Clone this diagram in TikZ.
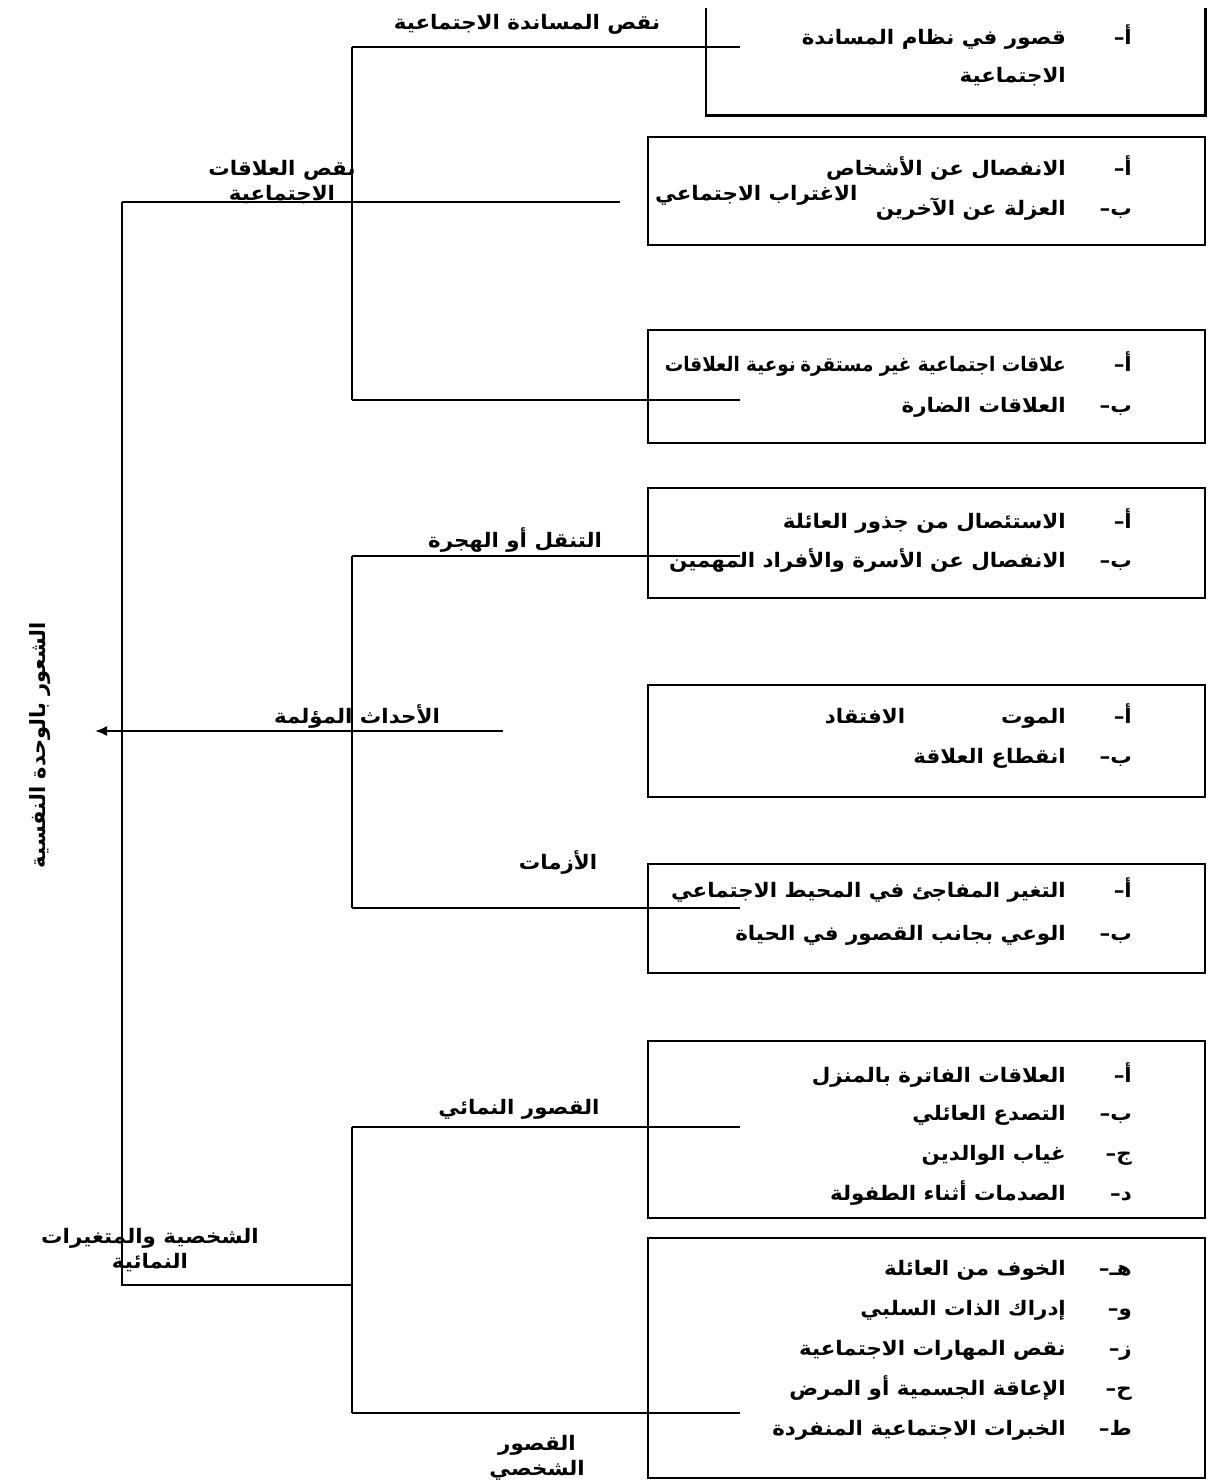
\documentclass[tikz,border=0pt]{standalone}
\usepackage{fontspec}
\usetikzlibrary{arrows.meta}
\TeXXeTstate=1
\newfontfamily\arabicfont[Script=Arabic,FakeStretch=1.07]{DejaVu Sans}
\newfontfamily\arabicnarrow[Script=Arabic,FakeStretch=0.92]{DejaVu Sans}
\newfontfamily\arabictitle[Script=Arabic]{DejaVu Sans}
\newcommand{\armid}{\arabicfont\bfseries\fontsize{20}{25}\selectfont}
\newcommand{\arnarrow}{\arabicnarrow\bfseries\fontsize{20}{25}\selectfont}
\newcommand{\artitle}{\arabictitle\bfseries\fontsize{21}{25}\selectfont}
\newcommand{\rl}[1]{\beginR #1\endR}

\begin{document}
\begin{tikzpicture}[x=1pt,y=-1pt,>={Latex[length=12pt,width=10pt]},
  frame/.style={line width=2.6pt},
  link/.style={line width=2pt},
  panel/.style={draw,frame,minimum width=557pt,inner sep=0pt},
  itemtag/.style={anchor=base east,inner sep=0pt,font=\armid},
  itemtext/.style={anchor=base east,inner sep=0pt,font=\armid},
  branch/.style={inner sep=0pt,font=\armid,align=center}]
  \useasboundingbox (0,0) rectangle (1208,1483);
  % panels on the right
  \node[minimum width=499pt,minimum height=107pt,inner sep=0pt] (supp) at (955.5,61.5) {};
  \draw[frame] (supp.north west) |- (supp.south east) -- (supp.north east);
  \node[panel,minimum height=108pt] (isol)   at (926.5,191)    {};
  \node[panel,minimum height=113pt] (qual)   at (926.5,386.5)  {};
  \node[panel,minimum height=110pt] (move)   at (926.5,543)    {};
  \node[panel,minimum height=112pt] (loss)   at (926.5,741)    {};
  \node[panel,minimum height=109pt] (crisis) at (926.5,918.5)  {};
  \node[panel,minimum height=177pt] (dev)    at (926.5,1129.5) {};
  \node[panel,minimum height=240pt] (pers)   at (926.5,1358)   {};
  % items of each panel
  \node[itemtag]  (supptag1) at (1132,44) {\rl{أ–}};
  \node[itemtext] (supp1)    at (1066,44) {\rl{قصور في نظام المساندة}};
  \node[itemtext] (supp2)    at (1066,82) {\rl{الاجتماعية}};
  \foreach \y/\l/\t [count=\i] in {168/أ/الانفصال عن الأشخاص, 208/ب/العزلة عن الآخرين}{
    \node[itemtag] (isoltag\i) at (1132,{\y+7}) {\rl{\l–}};
    \node[itemtext] (isol\i) at (1066,{\y+7}) {\rl{\t}};}
  \node[itemtag] (qualtag1) at (1132,371) {\rl{أ–}};
  \node[itemtext,font=\arnarrow] (qual1) at (1066,371) {\rl{علاقات اجتماعية غير مستقرة}};
  \node[itemtag] (qualtag2) at (1132,412) {\rl{ب–}};
  \node[itemtext] (qual2) at (1066,412) {\rl{العلاقات الضارة}};
  \foreach \y/\l/\t [count=\i] in {521/أ/الاستئصال من جذور العائلة, 560/ب/الانفصال عن الأسرة والأفراد المهمين}{
    \node[itemtag] (movetag\i) at (1132,{\y+7}) {\rl{\l–}};
    \node[itemtext] (move\i) at (1066,{\y+7}) {\rl{\t}};}
  \foreach \y/\l/\t [count=\i] in {716/أ/الموت, 756/ب/انقطاع العلاقة}{
    \node[itemtag] (losstag\i) at (1132,{\y+7}) {\rl{\l–}};
    \node[itemtext] (loss\i) at (1066,{\y+7}) {\rl{\t}};}
  \foreach \y/\l/\t [count=\i] in {890/أ/التغير المفاجئ في المحيط الاجتماعي, 933/ب/الوعي بجانب القصور في الحياة}{
    \node[itemtag] (crisistag\i) at (1132,{\y+7}) {\rl{\l–}};
    \node[itemtext] (crisis\i) at (1066,{\y+7}) {\rl{\t}};}
  \foreach \y/\l/\t [count=\i] in {1075/أ/العلاقات الفاترة بالمنزل, 1113/ب/التصدع العائلي,
      1153/ج/غياب الوالدين, 1193/د/الصدمات أثناء الطفولة}{
    \node[itemtag] (devtag\i) at (1132,{\y+7}) {\rl{\l–}};
    \node[itemtext] (dev\i) at (1066,{\y+7}) {\rl{\t}};}
  \foreach \y/\l/\t [count=\i] in {1268/هـ/الخوف من العائلة, 1308/و/إدراك الذات السلبي,
      1348/ز/نقص المهارات الاجتماعية, 1388/ح/الإعاقة الجسمية أو المرض, 1428/ط/الخبرات الاجتماعية المنفردة}{
    \node[itemtag] (perstag\i) at (1132,{\y+7}) {\rl{\l–}};
    \node[itemtext] (pers\i) at (1066,{\y+7}) {\rl{\t}};}
  % branch labels
  \node[branch,anchor=base] (suppL)  at (527,29)  {\rl{نقص المساندة الاجتماعية}};
  \node[branch] (relL)               at (282,182) {\rl{نقص العلاقات}\\\rl{الاجتماعية}};
  \node[branch,anchor=base west] (alienL) at (655,200) {\rl{الاغتراب الاجتماعي}};
  \node[branch,font=\arnarrow,anchor=base east,xshift=-4pt] (qualL) at (qual1.base west) {\rl{نوعية العلاقات}};
  \node[branch,anchor=base] (moveL)   at (515,547)  {\rl{التنقل أو الهجرة}};
  \node[branch,anchor=base] (painL)   at (357,723)  {\rl{الأحداث المؤلمة}};
  \node[branch,anchor=base] (lossL)   at (865,723)  {\rl{الافتقاد}};
  \node[branch,anchor=base] (crisisL) at (558,869)  {\rl{الأزمات}};
  \node[branch,anchor=base] (devL)    at (519,1114) {\rl{القصور النمائي}};
  \node[branch] (persL)   at (150,1250) {\rl{الشخصية والمتغيرات}\\\rl{النمائية}};
  \node[branch] (selfL)   at (537,1458) {\rl{القصور}\\\rl{الشخصي}};
  \node[inner sep=0pt,font=\artitle,rotate=90] (title) at (40,745) {\rl{الشعور بالوحدة النفسية}};
  % connector points
  \coordinate (Atop) at (352,47);   \coordinate (Atope) at (740,47);
  \coordinate (Amid) at (352,202);  \coordinate (Amide) at (620,202);
  \coordinate (Abot) at (352,400);  \coordinate (Abote) at (740,400);
  \coordinate (Btop) at (352,556);  \coordinate (Btope) at (740,556);
  \coordinate (Bmid) at (503,731);  \coordinate (Bend)  at (95,731);
  \coordinate (Bbot) at (352,908);  \coordinate (Bbote) at (740,908);
  \coordinate (Ctop) at (352,1127); \coordinate (Ctope) at (740,1127);
  \coordinate (Cmid) at (352,1285);
  \coordinate (Cbot) at (352,1413); \coordinate (Cbote) at (740,1413);
  \coordinate (Rtop) at (122,202);  \coordinate (Rbot) at (122,1285);
  % brackets
  \draw[link] (Atop) -- (Abot);
  \draw[link] (Atop) -- (Atope);
  \draw[link] (Abot) -- (Abote);
  \draw[link] (Rtop) -- (Amide);
  \draw[link] (Btop) -- (Bbot);
  \draw[link] (Btop) -- (Btope);
  \draw[link] (Bbot) -- (Bbote);
  \draw[link,->] (Bmid) -- (Bend);
  \draw[link] (Ctop) -- (Ctope);
  \draw[link] (Ctop) -- (Cbot);
  \draw[link] (Cbot) -- (Cbote);
  \draw[link] (Rtop) -- (Rbot) -- (Cmid);
\end{tikzpicture}
\end{document}
